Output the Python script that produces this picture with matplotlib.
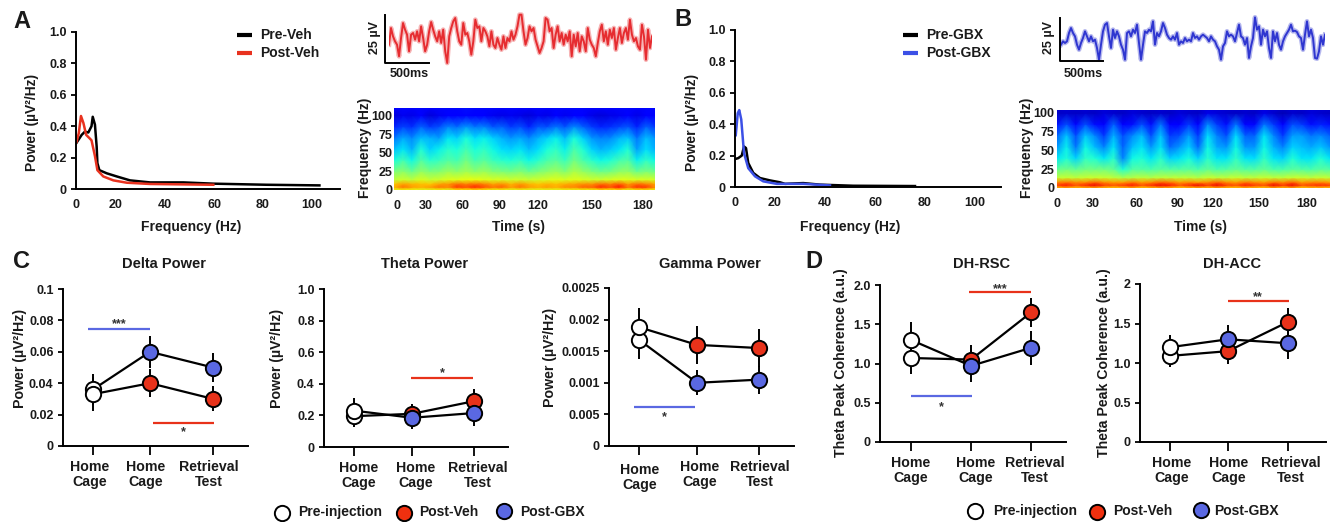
import numpy as np
import matplotlib
matplotlib.use('Agg')
import matplotlib.pyplot as plt
from matplotlib.transforms import ScaledTranslation

plt.rcParams['font.family'] = ['Liberation Sans', 'DejaVu Sans']
plt.rcParams['font.weight'] = 'bold'
plt.rcParams['axes.labelweight'] = 'bold'

W, H = 1330, 522
TXT = '#1a1a1a'
RED = '#e8321a'
BLUE = '#5a68e2'

freq_pre_veh = [3.7, 6, 7.3, 8.7, 10, 10.5, 11.4, 12.1, 12.4, 13.2, 16.2, 20.3, 25.7, 33.9, 47.5, 59.7, 81.5, 103]
pow_pre_veh = [.29, .345, .365, .36, .40, .46, .41, .27, .165, .12, .10, .08, .055, .042, .042, .034, .027, .023]
freq_post_veh = [3.9, 4.8, 5.7, 6.7, 7.8, 9.4, 10, 11.4, 12.4, 14.8, 18.9, 24.4, 33.9, 59.7]
pow_post_veh = [.30, .355, .465, .42, .345, .32, .31, .21, .12, .08, .055, .04, .032, .027]
freq_pre_gbx = [4, 5.3, 6.7, 7.6, 8.4, 9.3, 11.3, 14, 18, 22, 24, 31.3, 38, 51.3, 76]
pow_pre_gbx = [.178, .184, .2, .258, .248, .153, .09, .057, .042, .03, .02, .025, .015, .008, .006]
freq_post_gbx = [4.3, 5.1, 5.7, 6.5, 7.6, 9.3, 12, 15.3, 20.7, 31.3, 42]
pow_post_gbx = [.33, .47, .49, .43, .216, .12, .068, .036, .02, .02, .01]

# LFP traces, read every 2 px (units: picture height of the trace strip)
trace_veh = [110, 60, 85, 100, 110, 145, 90, 45, 65, 80, 130, 80, 75, 95, 70, 100, 55, 90, 130, 110,
             70, 42, 65, 85, 100, 70, 105, 65, 130, 165, 85, 60, 40, 30, 70, 100, 110, 45, 80, 75,
             100, 140, 100, 35, 60, 55, 100, 60, 70, 85, 115, 70, 110, 120, 90, 110, 125, 85, 120, 90,
             100, 70, 95, 80, 55, 20, 20, 70, 110, 90, 55, 70, 60, 95, 115, 135, 120, 100, 30, 35,
             70, 60, 120, 80, 55, 100, 75, 110, 80, 100, 70, 145, 80, 115, 75, 130, 85, 100, 130, 60,
             95, 110, 120, 145, 105, 70, 50, 100, 70, 110, 65, 90, 60, 125, 90, 60, 105, 75, 60, 95,
             35, 80, 100, 90, 115, 125, 50, 85, 155, 65, 120, 85]
trace_gbx = [110, 100, 105, 100, 75, 60, 75, 85, 110, 125, 105, 90, 70, 85, 100, 85, 100, 95, 120, 155,
             110, 70, 50, 45, 85, 120, 65, 90, 70, 85, 110, 125, 155, 75, 70, 85, 65, 75, 50, 105,
             155, 110, 70, 75, 65, 70, 40, 110, 75, 85, 70, 45, 60, 80, 90, 95, 85, 95, 75, 110,
             100, 105, 90, 100, 95, 100, 75, 90, 85, 95, 85, 80, 85, 90, 100, 85, 95, 100, 115, 125,
             155, 115, 105, 70, 85, 80, 85, 100, 75, 50, 85, 90, 110, 90, 150, 115, 90, 28, 65, 55,
             110, 65, 85, 70, 120, 150, 70, 100, 75, 110, 125, 100, 85, 75, 65, 50, 70, 68, 72, 85,
             90, 125, 80, 40, 85, 65, 90, 150, 152, 130, 85, 110, 80]

# spectrograms: colour level per frequency row (bottom to top), 30 time columns
spec_freqs = [0, 4, 8, 14, 25, 40, 55, 70, 85, 100, 110]
spec_veh = [
    [.62, .64, .63, .62, .62, .64, .62, .66, .65, .66, .65, .63, .64, .62, .63, .62, .62, .62, .62, .63, .63, .64, .64, .66, .65, .66, .63, .65, .65, .63],
    [.72, .78, .74, .72, .74, .78, .76, .84, .82, .86, .82, .78, .80, .74, .78, .74, .72, .74, .72, .76, .76, .80, .80, .86, .82, .88, .78, .85, .84, .76],
    [.70, .74, .72, .71, .70, .74, .75, .80, .78, .80, .78, .74, .76, .72, .75, .72, .70, .72, .71, .73, .74, .76, .76, .80, .78, .82, .75, .80, .78, .74],
    [.58, .60, .58, .61, .59, .60, .62, .62, .63, .63, .62, .61, .61, .60, .60, .59, .60, .61, .62, .61, .62, .61, .60, .60, .61, .62, .62, .61, .61, .60],
    [.50, .52, .48, .53, .50, .51, .54, .52, .55, .52, .54, .51, .50, .49, .51, .48, .50, .52, .54, .51, .56, .53, .50, .48, .49, .52, .53, .48, .50, .48],
    [.38, .43, .37, .45, .40, .42, .45, .43, .49, .43, .46, .42, .40, .39, .41, .37, .40, .44, .46, .42, .49, .44, .40, .37, .39, .43, .45, .36, .41, .37],
    [.31, .35, .30, .39, .33, .36, .40, .38, .43, .38, .41, .37, .34, .33, .35, .31, .34, .38, .41, .36, .44, .39, .33, .30, .32, .35, .39, .28, .34, .30],
    [.24, .29, .26, .31, .30, .28, .35, .33, .38, .34, .36, .33, .30, .27, .29, .26, .30, .33, .36, .31, .38, .33, .27, .25, .26, .30, .32, .24, .31, .27],
    [.16, .19, .17, .22, .18, .20, .25, .23, .27, .24, .25, .21, .22, .18, .20, .16, .21, .20, .24, .21, .26, .22, .18, .16, .17, .19, .21, .16, .22, .18],
    [.08, .10, .09, .11, .08, .10, .12, .11, .13, .12, .11, .10, .09, .10, .09, .08, .10, .09, .11, .10, .11, .12, .09, .08, .09, .10, .11, .09, .12, .11],
    [.12, .13, .12, .13, .12, .13, .13, .13, .14, .13, .13, .13, .12, .13, .12, .12, .13, .12, .13, .13, .13, .13, .12, .12, .12, .13, .13, .12, .13, .13],
]
spec_gbx = [
    [.70, .72, .70, .71, .72, .70, .69, .70, .72, .69, .70, .72, .71, .69, .70, .71, .70, .72, .70, .69, .71, .70, .69, .72, .70, .72, .69, .70, .70, .69],
    [.84, .88, .82, .86, .90, .84, .82, .84, .88, .82, .86, .90, .88, .82, .86, .90, .84, .90, .84, .82, .88, .84, .82, .90, .84, .90, .82, .84, .86, .84],
    [.76, .78, .76, .76, .80, .76, .74, .74, .78, .74, .76, .80, .78, .74, .76, .74, .76, .80, .76, .74, .78, .76, .74, .78, .76, .80, .74, .76, .76, .74],
    [.58, .59, .58, .59, .59, .59, .58, .56, .57, .58, .57, .58, .58, .58, .58, .57, .59, .58, .58, .59, .58, .58, .59, .58, .58, .59, .59, .58, .59, .58],
    [.47, .49, .47, .49, .49, .49, .47, .39, .45, .45, .44, .46, .45, .45, .46, .44, .47, .44, .45, .47, .45, .45, .47, .44, .44, .46, .45, .44, .46, .45],
    [.35, .39, .33, .41, .39, .35, .40, .25, .37, .39, .35, .40, .33, .35, .38, .33, .40, .35, .35, .41, .35, .34, .41, .35, .33, .39, .35, .35, .39, .35],
    [.27, .36, .24, .37, .31, .25, .35, .22, .31, .35, .27, .35, .23, .27, .33, .23, .37, .29, .27, .37, .27, .27, .37, .30, .25, .33, .31, .29, .32, .27],
    [.22, .32, .20, .32, .26, .18, .30, .20, .26, .31, .20, .32, .18, .20, .28, .18, .34, .25, .20, .34, .22, .22, .35, .26, .18, .28, .28, .24, .26, .22],
    [.14, .20, .13, .20, .14, .12, .22, .12, .14, .20, .14, .24, .12, .12, .18, .12, .26, .18, .14, .24, .13, .13, .24, .18, .11, .20, .18, .14, .16, .14],
    [.06, .07, .06, .07, .06, .08, .07, .06, .08, .07, .06, .07, .06, .08, .07, .06, .09, .08, .07, .06, .07, .06, .09, .07, .05, .07, .06, .08, .07, .06],
    [.08, .08, .08, .08, .08, .08, .08, .08, .08, .08, .08, .08, .08, .08, .08, .08, .08, .08, .08, .08, .08, .08, .08, .08, .08, .08, .08, .08, .08, .08],
]

# group means and errors (pre-injection, home cage, retrieval test)
delta_veh, delta_veh_err = [.033, .04, .03], [.011, .009, .008]
delta_gbx, delta_gbx_err = [.036, .06, .05], [.01, .01, .009]
theta_veh, theta_veh_err = [.195, .21, .29], [.07, .06, .08]
theta_gbx, theta_gbx_err = [.23, .185, .215], [.08, .07, .08]
gamma_veh, gamma_veh_err = [.00188, .0016, .00155], [.0003, .0003, .0003]
gamma_gbx, gamma_gbx_err = [.00168, .001, .00105], [.0003, .0002, .00022]
rsc_veh, rsc_veh_err = [1.07, 1.05, 1.65], [.2, .18, .18]
rsc_gbx, rsc_gbx_err = [1.3, .97, 1.2], [.23, .2, .22]
acc_veh, acc_veh_err = [1.09, 1.15, 1.52], [.14, .16, .18]
acc_gbx, acc_gbx_err = [1.2, 1.3, 1.25], [.15, .18, .2]

group_labels = ['Home\nCage', 'Home\nCage', 'Retrieval\nTest']

fig = plt.figure(figsize=(W / 100, H / 100), dpi=100)
over = fig.add_axes([0, 0, 1, 1], zorder=10)
over.set_xlim(0, W)
over.set_ylim(H, 0)
over.axis('off')


def add_ax(left, top, right, bottom):
    return fig.add_axes([left / W, 1 - bottom / H, (right - left) / W, (bottom - top) / H])


def put(x, y, s, size=10, **kw):
    kw.setdefault('ha', 'center')
    kw.setdefault('va', 'center')
    over.text(x, y, s, fontsize=size, color=TXT, **kw)


def frame(ax):
    ax.spines['top'].set_visible(False)
    ax.spines['right'].set_visible(False)
    ax.spines['left'].set_linewidth(1.4)
    ax.spines['bottom'].set_linewidth(1.4)
    ax.patch.set_alpha(0)


def spectrum(box, xlim, xpos, curves, ylabel_x, xlabel_x, legend_x, legend_names):
    ax = add_ax(*box)
    frame(ax)
    for f, p, c in curves:
        ax.plot(f, p, color=c, lw=1.8)
    ax.set_xlim(*xlim)
    ax.set_ylim(0, 1)
    ax.set_yticks([0, .2, .4, .6, .8, 1], ['0', '0.2', '0.4', '0.6', '0.8', '1.0'], fontsize=9, color=TXT)
    ax.set_xticks(xpos, ['0', '20', '40', '60', '80', '100'], fontsize=9, color=TXT)
    ax.tick_params(axis='x', length=0, pad=7)
    ax.tick_params(axis='y', length=3.6, width=1.3, pad=3)
    put(ylabel_x, 122, 'Power (µV²/Hz)', rotation=90)
    put(xlabel_x, 227, 'Frequency (Hz)')
    for y, c, name in zip([35, 53], [curves[0][2], curves[1][2]], legend_names):
        over.plot([legend_x, legend_x + 15], [y, y], color=c, lw=3, solid_capstyle='butt')
        put(legend_x + 23, y, name, ha='left')


def trace(box, vals, color):
    ax = add_ax(*box)
    ax.axis('off')
    t = np.arange(len(vals))
    ax.plot(t, vals, color=color, lw=3.4, alpha=.35)
    ax.plot(t, vals, color=color, lw=1.4)
    ax.set_xlim(0, len(vals) - 1)
    ax.set_ylim(180, 0)


def spectrogram(box, xlim, ytop, xpos, yfmt_pad, mat, ylabel_x, xlabel_x):
    ax = add_ax(*box)
    t = np.linspace(xlim[0], xlim[1], mat.shape[1])
    ax.pcolormesh(t, spec_freqs, mat, cmap='jet', vmin=0, vmax=1, shading='gouraud', rasterized=True)
    ax.set_xlim(*xlim)
    ax.set_ylim(0, ytop)
    ax.set_xticks(xpos, ['0', '30', '60', '90', '120', '150', '180'], fontsize=9, color=TXT)
    ax.set_yticks([0, 25, 50, 75, 100], ['0', '25', '50', '75', '100'], fontsize=9, color=TXT)
    ax.tick_params(axis='both', length=0)
    ax.tick_params(axis='x', pad=7)
    ax.tick_params(axis='y', pad=yfmt_pad)
    for s in ax.spines.values():
        s.set_visible(False)
    put(ylabel_x, 148, 'Frequency (Hz)', rotation=90)
    put(xlabel_x, 227, 'Time (s)')


def group_panel(box, xlim, ylim, yticks, ylabels, x, veh, veh_err, gbx, gbx_err, label_dx, title, title_x,
                ylabel, ylabel_x, ylabel_y, sig, veh_pre_on_top=False):
    ax = add_ax(*box)
    frame(ax)
    for vals, err, col, z in [(veh, veh_err, RED, 4.5 if veh_pre_on_top else 4), (gbx, gbx_err, BLUE, 4)]:
        ax.errorbar(x, vals, yerr=err, color='black', lw=1.6, elinewidth=1.4, capsize=0, zorder=3)
        ax.plot(x[1:], vals[1:], 'o', ms=11, mfc=col, mec='black', mew=1.4, zorder=4)
        ax.plot(x[:1], vals[:1], 'o', ms=11, mfc='white', mec='black', mew=1.4, zorder=z)
    ax.set_xlim(*xlim)
    ax.set_ylim(*ylim)
    ax.set_yticks(yticks, ylabels, fontsize=9, color=TXT)
    ax.set_xticks(x, group_labels, fontsize=10.2, color=TXT)
    ax.tick_params(axis='x', length=6.5, width=1.3, pad=3.5)
    ax.tick_params(axis='y', length=3.8, width=1.3, pad=3)
    for lab, dx in zip(ax.get_xticklabels(), label_dx):
        lab.set_transform(lab.get_transform() + ScaledTranslation(dx[0] / 100, -dx[1] / 100, fig.dpi_scale_trans))
        lab.set_linespacing(1.12)
    for x0, x1, yv, col, stars, sx, sy in sig:
        ax.plot([x0, x1], [yv, yv], color=col, lw=1.6, solid_capstyle='butt')
        ax.text(sx, sy, stars, fontsize=9, color='#333333', ha='center', va='center')
    put(title_x, 264, title, size=10.5)
    put(ylabel_x, ylabel_y, ylabel, size=10.2, rotation=90)


def legend_row(items, y_text):
    for mx, my, tx, name, col in items:
        over.plot([mx], [my], 'o', ms=11, mfc=col, mec='black', mew=1.4)
        put(tx, y_text, name, ha='left', size=10)


# top row
spectrum((76, 32, 340, 189), (3.67, 111.4), [3.67, 20, 40, 60, 80, 100],
         [(freq_pre_veh, pow_pre_veh, 'black'), (freq_post_veh, pow_post_veh, '#e8321f')],
         32, 191, 237, ['Pre-Veh', 'Post-Veh'])
spectrum((735, 30, 1001, 187), (4, 110.4), [4, 20, 40, 60, 80, 100],
         [(freq_pre_gbx, pow_pre_gbx, 'black'), (freq_post_gbx, pow_post_gbx, '#3c50e6')],
         692, 850, 903, ['Pre-GBX', 'Post-GBX'])

trace((389, 8, 652, 68), trace_veh, '#e62c30')
trace((1061, 8, 1325, 68), trace_gbx, '#2f36d0')

# scale bars
over.plot([385, 385, 429], [15, 63, 63], color='black', lw=1.4)
over.plot([1060, 1060, 1103], [18, 61, 61], color='black', lw=1.4)
put(375, 37, '25 µV', size=9, rotation=90)
put(1049, 37, '25 µV', size=9, rotation=90)
put(409, 74, '500ms', size=9)
put(1083, 74, '500ms', size=9)

spectrogram((394, 108, 655, 190), (-2, 188.8), 110, [0, 21, 48, 75, 103, 142.6, 180], 1,
            np.array(spec_veh), 365, 519)
spectrogram((1057, 110, 1330, 188), (0, 196.6), 104, [0, 26, 57, 87, 112, 145, 180], 2,
            np.array(spec_gbx), 1027, 1200)

# bottom row
group_panel((63, 289, 248, 446), (-.5, 2.583), (0, .1), [0, .02, .04, .06, .08, .1],
            ['0', '0.02', '0.04', '0.06', '0.08', '0.1'], [0, .95, 2],
            delta_veh, delta_veh_err, delta_gbx, delta_gbx_err, [(-3, 0), (-4, 0), (-4, 0)],
            'Delta Power', 164, 'Power (µV²/Hz)', 20, 358,
            [(-.083, .95, .0745, BLUE, '***', .433, .0775), (1.0, 2.02, .0147, RED, '*', 1.5, .0085)],
            veh_pre_on_top=True)
group_panel((324, 289, 508, 447), (-.5, 2.567), (0, 1), [0, .2, .4, .6, .8, 1],
            ['0', '0.2', '0.4', '0.6', '0.8', '1.0'], [0, .967, 2],
            theta_veh, theta_veh_err, theta_gbx, theta_gbx_err, [(5, 0), (4, 0), (4, 0)],
            'Theta Power', 425, 'Power (µV²/Hz)', 277, 358,
            [(.95, 1.98, .437, RED, '*', 1.47, .47)])
group_panel((609, 288, 794, 446), (-.5, 2.583), (0, .0025), [0, .0005, .001, .0015, .002, .0025],
            ['0', '0.005', '0.001', '0.0015', '0.002', '0.0025'], [0, .967, 2],
            gamma_veh, gamma_veh_err, gamma_gbx, gamma_gbx_err, [(1, 3), (3, 0), (1, 0)],
            'Gamma Power', 710, 'Power (µV²/Hz)', 550, 357,
            [(-.083, .933, .000617, BLUE, '*', .417, .00045)], veh_pre_on_top=True)
group_panel((880, 285, 1066, 442), (-.517, 2.583), (0, 2), [0, .5, 1, 1.5, 2],
            ['0', '0.5', '1.0', '1.5', '2.0'], [0, 1, 2],
            rsc_veh, rsc_veh_err, rsc_gbx, rsc_gbx_err, [(0, 0), (5, 0), (4, 0)],
            'DH-RSC', 982, 'Theta Peak Coherence (a.u.)', 841, 363,
            [(.967, 2, 1.91, RED, '***', 1.483, 1.95), (0, 1.017, .586, BLUE, '*', .5, .45)])
group_panel((1140, 284, 1326, 442), (-.508, 2.644), (0, 2), [0, .5, 1, 1.5, 2],
            ['0', '0.5', '1.0', '1.5', '2'], [0, .983, 2],
            acc_veh, acc_veh_err, acc_gbx, acc_gbx_err, [(2, 0), (1, 0), (3, 0)],
            'DH-ACC', 1232, 'Theta Peak Coherence (a.u.)', 1104, 363,
            [(.983, 2.017, 1.78, RED, '**', 1.49, 1.83)])

legend_row([(282, 513, 298, 'Pre-injection', 'white'), (404, 513, 419, 'Post-Veh', '#f0300f'),
            (504, 511, 520, 'Post-GBX', BLUE)], 512)
legend_row([(975, 511, 993, 'Pre-injection', 'white'), (1097, 512, 1113, 'Post-Veh', '#f0300f'),
            (1201, 510, 1214, 'Post-GBX', BLUE)], 511)

for x, y, s in [(22, 22, 'A'), (683, 20, 'B'), (22, 262, 'C'), (814, 262, 'D')]:
    put(x, y, s, size=17)

fig.savefig('out.png', dpi=100)
